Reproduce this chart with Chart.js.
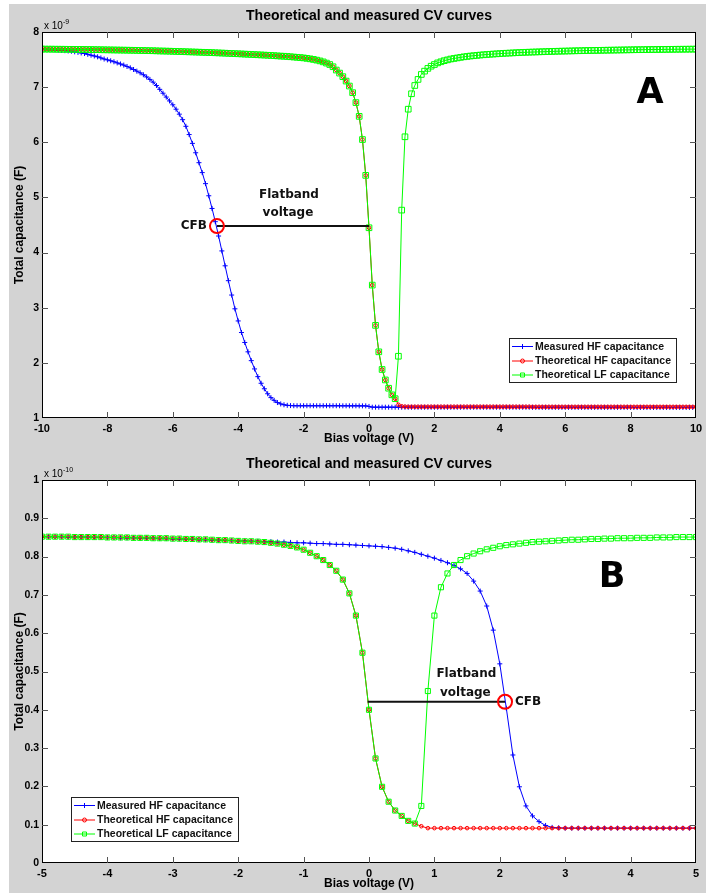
<!DOCTYPE html>
<html>
<head>
<meta charset="utf-8">
<script src="https://cdn.jsdelivr.net/npm/chart.js@4.4.1/dist/chart.umd.min.js"></script>
<style>
  html, body { margin: 0; padding: 0; background: #fff; }
  body { width: 706px; height: 893px; position: relative; overflow: hidden; }
  #bg { position: absolute; left: 9px; top: 4px; right: 0; bottom: 0; background: #d3d3d3; }
  canvas { position: absolute; left: 0; }
  #chartA { top: 0; }
  #chartB { top: 446px; }
</style>
</head>
<body>
<div id="bg"></div>
<canvas id="chartA" width="706" height="446"></canvas>
<canvas id="chartB" width="706" height="447"></canvas>
<script>
// ---- chart A data (capacitance in units of 1e-9 F) ----
const biasA = [
  -10,-9.9,-9.8,-9.7,-9.6,-9.5,-9.4,-9.3,-9.2,-9.1,
  -9,-8.9,-8.8,-8.7,-8.6,-8.5,-8.4,-8.3,-8.2,-8.1,
  -8,-7.9,-7.8,-7.7,-7.6,-7.5,-7.4,-7.3,-7.2,-7.1,
  -7,-6.9,-6.8,-6.7,-6.6,-6.5,-6.4,-6.3,-6.2,-6.1,
  -6,-5.9,-5.8,-5.7,-5.6,-5.5,-5.4,-5.3,-5.2,-5.1,
  -5,-4.9,-4.8,-4.7,-4.6,-4.5,-4.4,-4.3,-4.2,-4.1,
  -4,-3.9,-3.8,-3.7,-3.6,-3.5,-3.4,-3.3,-3.2,-3.1,
  -3,-2.9,-2.8,-2.7,-2.6,-2.5,-2.4,-2.3,-2.2,-2.1,
  -2,-1.9,-1.8,-1.7,-1.6,-1.5,-1.4,-1.3,-1.2,-1.1,
  -1,-0.9,-0.8,-0.7,-0.6,-0.5,-0.4,-0.3,-0.2,-0.1,
  0,0.1,0.2,0.3,0.4,0.5,0.6,0.7,0.8,0.9,
  1,1.1,1.2,1.3,1.4,1.5,1.6,1.7,1.8,1.9,
  2,2.1,2.2,2.3,2.4,2.5,2.6,2.7,2.8,2.9,
  3,3.1,3.2,3.3,3.4,3.5,3.6,3.7,3.8,3.9,
  4,4.1,4.2,4.3,4.4,4.5,4.6,4.7,4.8,4.9,
  5,5.1,5.2,5.3,5.4,5.5,5.6,5.7,5.8,5.9,
  6,6.1,6.2,6.3,6.4,6.5,6.6,6.7,6.8,6.9,
  7,7.1,7.2,7.3,7.4,7.5,7.6,7.7,7.8,7.9,
  8,8.1,8.2,8.3,8.4,8.5,8.6,8.7,8.8,8.9,
  9,9.1,9.2,9.3,9.4,9.5,9.6,9.7,9.8,9.9,10
];
const measuredHFA = [
  7.69,7.686,7.682,7.678,7.674,7.67,7.666,7.661,7.656,7.651,
  7.64,7.63,7.62,7.61,7.595,7.58,7.565,7.55,7.53,7.51,
  7.495,7.478,7.46,7.44,7.42,7.4,7.375,7.35,7.32,7.29,
  7.26,7.225,7.185,7.14,7.09,7.03,6.96,6.89,6.82,6.75,
  6.68,6.6,6.51,6.41,6.29,6.14,5.98,5.81,5.63,5.45,
  5.25,5.03,4.8,4.56,4.3,4.03,3.76,3.49,3.23,2.98,
  2.76,2.55,2.37,2.2,2.04,1.89,1.75,1.63,1.53,1.44,
  1.37,1.32,1.28,1.255,1.24,1.23,1.225,1.223,1.222,1.222,
  1.222,1.222,1.222,1.222,1.222,1.222,1.222,1.222,1.222,1.222,
  1.222,1.222,1.221,1.221,1.221,1.221,1.221,1.22,1.22,1.22,
  1.21,1.196,1.196,1.196,1.196,1.196,1.196,1.196,1.196,1.196,
  1.195,1.195,1.195,1.195,1.195,1.195,1.195,1.195,1.195,1.195,
  1.195,1.195,1.195,1.195,1.195,1.195,1.195,1.195,1.195,1.195,
  1.195,1.195,1.195,1.195,1.195,1.195,1.195,1.195,1.195,1.195,
  1.195,1.195,1.195,1.195,1.195,1.195,1.195,1.195,1.195,1.195,
  1.193,1.193,1.193,1.193,1.193,1.193,1.193,1.193,1.193,1.193,
  1.193,1.193,1.193,1.193,1.193,1.193,1.193,1.193,1.193,1.193,
  1.193,1.193,1.193,1.193,1.193,1.193,1.193,1.193,1.193,1.193,
  1.191,1.191,1.191,1.191,1.191,1.191,1.191,1.191,1.191,1.191,
  1.191,1.191,1.191,1.191,1.191,1.191,1.191,1.191,1.191,1.191,1.191
];
const theoryLFA = [
  7.69,7.69,7.689,7.689,7.688,7.688,7.687,7.687,7.686,7.686,
  7.685,7.684,7.684,7.683,7.682,7.681,7.68,7.679,7.678,7.677,
  7.676,7.675,7.674,7.673,7.672,7.671,7.67,7.669,7.668,7.667,
  7.665,7.664,7.662,7.661,7.66,7.658,7.656,7.655,7.653,7.652,
  7.65,7.648,7.646,7.644,7.642,7.64,7.638,7.636,7.634,7.632,
  7.63,7.628,7.626,7.623,7.621,7.618,7.616,7.613,7.61,7.607,
  7.605,7.602,7.599,7.596,7.593,7.59,7.587,7.584,7.581,7.578,
  7.575,7.571,7.567,7.563,7.56,7.556,7.551,7.546,7.541,7.536,
  7.53,7.522,7.513,7.503,7.49,7.476,7.458,7.436,7.41,7.37,
  7.31,7.255,7.19,7.11,7.02,6.9,6.72,6.47,6.05,5.4,
  4.45,3.41,2.68,2.2,1.88,1.69,1.54,1.42,1.35,2.12,
  4.77,6.1,6.6,6.88,7.03,7.14,7.23,7.29,7.34,7.38,
  7.41,7.44,7.46,7.48,7.495,7.51,7.52,7.53,7.54,7.55,
  7.557,7.564,7.57,7.576,7.582,7.587,7.592,7.596,7.6,7.604,
  7.608,7.612,7.615,7.618,7.621,7.624,7.627,7.63,7.632,7.634,
  7.636,7.638,7.64,7.642,7.644,7.646,7.648,7.65,7.651,7.653,
  7.654,7.656,7.657,7.659,7.66,7.661,7.663,7.664,7.665,7.666,
  7.667,7.668,7.669,7.67,7.671,7.672,7.673,7.674,7.675,7.676,
  7.677,7.678,7.679,7.679,7.68,7.681,7.682,7.682,7.683,7.684,
  7.684,7.685,7.686,7.686,7.687,7.687,7.688,7.688,7.689,7.689,7.69
];
// theoretical HF follows the LF curve up to 0.8 V, then these values (0.9 .. 10 V)
const theoryHFTailA = [
  1.24,1.212,1.206,1.204,1.204,1.204,1.204,1.204,1.204,1.204,
  1.204,1.204,1.204,1.204,1.204,1.204,1.204,1.204,1.204,1.204,
  1.204,1.204,1.204,1.204,1.204,1.204,1.204,1.204,1.204,1.204,
  1.204,1.204,1.204,1.204,1.204,1.204,1.204,1.204,1.204,1.204,1.204,
  1.202,1.202,1.202,1.202,1.202,1.202,1.202,1.202,1.202,1.202,
  1.202,1.202,1.202,1.202,1.202,1.202,1.202,1.202,1.202,1.202,
  1.202,1.202,1.202,1.202,1.202,1.202,1.202,1.202,1.202,1.202,
  1.202,1.202,1.202,1.202,1.202,1.202,1.202,1.202,1.202,1.202,
  1.202,1.202,1.202,1.202,1.202,1.202,1.202,1.202,1.202,1.202,1.202
];
const xTicksA = [-10, -8, -6, -4, -2, 0, 2, 4, 6, 8, 10];
const yTicksA = [1, 2, 3, 4, 5, 6, 7, 8];
const yLabelsA = ['1', '2', '3', '4', '5', '6', '7', '8'];

// ---- chart B data (capacitance in units of 1e-10 F) ----
const biasB = [
  -5,-4.9,-4.8,-4.7,-4.6,-4.5,-4.4,-4.3,-4.2,-4.1,
  -4,-3.9,-3.8,-3.7,-3.6,-3.5,-3.4,-3.3,-3.2,-3.1,
  -3,-2.9,-2.8,-2.7,-2.6,-2.5,-2.4,-2.3,-2.2,-2.1,
  -2,-1.9,-1.8,-1.7,-1.6,-1.5,-1.4,-1.3,-1.2,-1.1,
  -1,-0.9,-0.8,-0.7,-0.6,-0.5,-0.4,-0.3,-0.2,-0.1,
  0,0.1,0.2,0.3,0.4,0.5,0.6,0.7,0.8,0.9,
  1,1.1,1.2,1.3,1.4,1.5,1.6,1.7,1.8,1.9,
  2,2.1,2.2,2.3,2.4,2.5,2.6,2.7,2.8,2.9,
  3,3.1,3.2,3.3,3.4,3.5,3.6,3.7,3.8,3.9,
  4,4.1,4.2,4.3,4.4,4.5,4.6,4.7,4.8,4.9,5
];
const measuredHFB = [
  0.852,0.852,0.852,0.852,0.851,0.851,0.851,0.851,0.85,0.85,
  0.85,0.85,0.849,0.849,0.849,0.848,0.848,0.848,0.847,0.847,
  0.846,0.846,0.845,0.845,0.844,0.844,0.843,0.843,0.842,0.842,
  0.841,0.841,0.84,0.84,0.839,0.839,0.838,0.838,0.837,0.836,
  0.836,0.835,0.834,0.834,0.833,0.832,0.832,0.831,0.83,0.829,
  0.828,0.827,0.826,0.824,0.822,0.819,0.815,0.811,0.806,0.801,
  0.796,0.79,0.784,0.777,0.768,0.756,0.736,0.71,0.671,0.608,
  0.52,0.404,0.282,0.199,0.149,0.123,0.108,0.098,0.093,0.092,
  0.091,0.091,0.091,0.091,0.091,0.091,0.091,0.091,0.091,0.091,
  0.091,0.091,0.091,0.091,0.091,0.091,0.091,0.091,0.091,0.091,0.091
];
const theoryLFB = [
  0.852,0.852,0.852,0.852,0.852,0.851,0.851,0.851,0.851,0.851,
  0.85,0.85,0.85,0.85,0.849,0.849,0.849,0.848,0.848,0.848,
  0.847,0.847,0.846,0.846,0.845,0.845,0.844,0.843,0.843,0.842,
  0.841,0.84,0.84,0.839,0.838,0.836,0.834,0.831,0.828,0.824,
  0.818,0.81,0.801,0.791,0.778,0.763,0.74,0.704,0.646,0.549,
  0.4,0.273,0.199,0.16,0.137,0.123,0.11,0.103,0.149,0.449,
  0.646,0.72,0.756,0.778,0.791,0.801,0.808,0.814,0.819,0.823,
  0.827,0.83,0.832,0.834,0.836,0.838,0.839,0.84,0.841,0.842,
  0.843,0.844,0.844,0.845,0.846,0.846,0.847,0.847,0.848,0.848,
  0.848,0.849,0.849,0.849,0.85,0.85,0.85,0.851,0.851,0.851,0.851
];
// theoretical HF follows the LF curve up to 0.7 V, then these values (0.8 .. 5 V)
const theoryHFTailB = [
  0.096,0.091,0.091,0.091,0.091,0.091,0.091,0.091,0.091,0.091,
  0.091,0.091,0.091,0.091,0.091,0.091,0.091,0.091,0.091,0.091,
  0.091,0.091,0.091,0.091,0.091,0.091,0.091,0.091,0.091,0.091,
  0.091,0.091,0.091,0.091,0.091,0.091,0.091,0.091,0.091,0.091,
  0.091,0.091,0.091
];
const xTicksB = [-5, -4, -3, -2, -1, 0, 1, 2, 3, 4, 5];
const yTicksB = [0, 0.1, 0.2, 0.3, 0.4, 0.5, 0.6, 0.7, 0.8, 0.9, 1];
const yLabelsB = ['0', '0.1', '0.2', '0.3', '0.4', '0.5', '0.6', '0.7', '0.8', '0.9', '1'];

const theoryHFA = theoryLFA.slice(0, 109).concat(theoryHFTailA);
const theoryHFB = theoryLFB.slice(0, 58).concat(theoryHFTailB);

const FONT = "'Liberation Sans', Arial, Helvetica, sans-serif";
const NOTE_FONT = "'DejaVu Sans', Verdana, sans-serif";
const BLUE = '#0000ff', RED = '#ff0000', GREEN = '#00ff00';

const pts = (xs, ys) => ys.map((y, i) => ({ x: xs[i], y: y }));

function drawMarker(ctx, style, x, y, r, color) {
  ctx.save();
  ctx.strokeStyle = color;
  ctx.lineWidth = 1;
  ctx.beginPath();
  if (style === 'cross') {
    ctx.moveTo(x - r, y); ctx.lineTo(x + r, y);
    ctx.moveTo(x, y - r); ctx.lineTo(x, y + r);
  } else if (style === 'circle') {
    ctx.arc(x, y, r, 0, Math.PI * 2);
  } else {
    ctx.rect(x - r, y - r, 2 * r, 2 * r);
  }
  ctx.stroke();
  ctx.restore();
}

const matlabLook = {
  id: 'matlabLook',
  beforeDraw(chart) {
    const { ctx, chartArea: a } = chart;
    ctx.save();
    ctx.fillStyle = '#ffffff';
    ctx.fillRect(a.left, a.top, a.right - a.left, a.bottom - a.top);
    ctx.restore();
  },
  afterDraw(chart, args, o) {
    const { ctx, chartArea: a } = chart;
    const x = chart.scales.x, y = chart.scales.y;
    const midX = (a.left + a.right) / 2, midY = (a.top + a.bottom) / 2;
    ctx.save();

    // axes box and inward ticks
    ctx.strokeStyle = '#000';
    ctx.lineWidth = 1;
    ctx.strokeRect(a.left + 0.5, a.top + 0.5, a.right - a.left - 1, a.bottom - a.top - 1);
    ctx.strokeStyle = '#555';
    ctx.beginPath();
    x.ticks.forEach(t => {
      const p = Math.round(x.getPixelForValue(t.value)) + 0.5;
      if (p < a.left + 2 || p > a.right - 2) return;
      ctx.moveTo(p, a.top); ctx.lineTo(p, a.top + 6);
      ctx.moveTo(p, a.bottom); ctx.lineTo(p, a.bottom - 6);
    });
    y.ticks.forEach(t => {
      const p = Math.round(y.getPixelForValue(t.value)) + 0.5;
      if (p < a.top + 2 || p > a.bottom - 2) return;
      ctx.moveTo(a.left, p); ctx.lineTo(a.left + 6, p);
      ctx.moveTo(a.right, p); ctx.lineTo(a.right - 6, p);
    });
    ctx.stroke();

    // titles
    ctx.fillStyle = '#000';
    ctx.textAlign = 'center';
    ctx.textBaseline = 'middle';
    ctx.font = 'bold 14px ' + FONT;
    ctx.fillText('Theoretical and measured CV curves', midX, a.top - 16);
    ctx.font = 'bold 12px ' + FONT;
    ctx.fillText('Bias voltage (V)', midX, a.bottom + 21);
    ctx.save();
    ctx.translate(20, midY);
    ctx.rotate(-Math.PI / 2);
    ctx.fillText('Total capacitance (F)', 0, 0);
    ctx.restore();

    // axis exponent
    ctx.textAlign = 'left';
    ctx.textBaseline = 'alphabetic';
    ctx.font = '10px ' + FONT;
    ctx.fillText('x 10', a.left + 2, a.top - 3);
    const w = ctx.measureText('x 10').width;
    ctx.font = '7px ' + FONT;
    ctx.fillText(o.exponent, a.left + 2 + w, a.top - 8);

    // flatband annotation
    const cx = x.getPixelForValue(o.cfb.v), cy = y.getPixelForValue(o.cfb.c);
    const ex = x.getPixelForValue(o.flatEnd);
    ctx.strokeStyle = '#111';
    ctx.lineWidth = 2;
    ctx.beginPath();
    ctx.moveTo(cx, cy); ctx.lineTo(ex, cy);
    ctx.stroke();
    ctx.strokeStyle = RED;
    ctx.beginPath();
    ctx.arc(cx, cy, 7, 0, Math.PI * 2);
    ctx.stroke();
    ctx.fillStyle = '#111';
    ctx.font = 'bold 12px ' + NOTE_FONT;
    ctx.textBaseline = 'middle';
    if (o.cfbSide === 'left') {
      ctx.textAlign = 'right';
      ctx.fillText('CFB', cx - 10, cy);
    } else {
      ctx.textAlign = 'left';
      ctx.fillText('CFB', cx + 10, cy);
    }
    ctx.textAlign = 'center';
    const tx = (cx + ex) / 2 + o.textDx;
    ctx.fillText('Flatband', tx, cy + o.textDy[0]);
    ctx.fillText('voltage', tx - 1, cy + o.textDy[1]);

    // panel letter
    ctx.font = 'bold 35px ' + NOTE_FONT;
    ctx.fillStyle = '#000';
    ctx.fillText(o.letter.t, o.letter.x, o.letter.y);

    // legend
    const L = o.legend;
    ctx.fillStyle = '#fff';
    ctx.fillRect(L.x, L.y, 168, 45);
    ctx.strokeStyle = '#222';
    ctx.lineWidth = 1;
    ctx.strokeRect(L.x + 0.5, L.y + 0.5, 167, 44);
    ctx.font = 'bold 10.5px ' + FONT;
    ctx.textAlign = 'left';
    ctx.textBaseline = 'middle';
    chart.data.datasets.forEach((d, i) => {
      const ry = L.y + [8.5, 23, 37][i];
      ctx.strokeStyle = d.borderColor;
      ctx.beginPath();
      ctx.moveTo(L.x + 3, ry); ctx.lineTo(L.x + 24, ry);
      ctx.stroke();
      drawMarker(ctx, d.pointStyle, L.x + 13.5, ry, d.pointStyle === 'cross' ? 2.5 : 2, d.borderColor);
      ctx.fillStyle = '#111';
      ctx.fillText(d.label, L.x + 26, ry + 0.5);
    });
    ctx.restore();
  }
};

function datasets(xs, meas, hf, lf, sq) {
  return [
    { label: 'Measured HF capacitance', data: pts(xs, meas), borderColor: BLUE, pointStyle: 'cross', pointRadius: 2.5, order: 3 },
    { label: 'Theoretical HF capacitance', data: pts(xs, hf), borderColor: RED, pointStyle: 'circle', pointRadius: 1.8, order: 2 },
    { label: 'Theoretical LF capacitance', data: pts(xs, lf), borderColor: GREEN, pointStyle: 'rect', pointRadius: sq, order: 1 }
  ].map(d => Object.assign({
    borderWidth: 1,
    pointBorderWidth: 1,
    pointBorderColor: d.borderColor,
    pointBackgroundColor: 'rgba(0,0,0,0)',
    tension: 0,
    fill: false
  }, d));
}

function makeChart(id, c) {
  return new Chart(document.getElementById(id), {
    type: 'line',
    data: { datasets: datasets(c.bias, c.meas, c.hf, c.lf, c.sq) },
    options: {
      responsive: false,
      animation: false,
      events: [],
      layout: { padding: { left: 0, right: 10, top: c.top, bottom: 0 } },
      plugins: {
        legend: { display: false },
        tooltip: { enabled: false },
        matlabLook: c.look
      },
      scales: {
        x: {
          type: 'linear',
          min: c.xTicks[0],
          max: c.xTicks[c.xTicks.length - 1],
          afterBuildTicks: s => { s.ticks = c.xTicks.map(v => ({ value: v })); },
          afterFit: s => { s.height = c.xh; s.paddingLeft = 0; s.paddingRight = 0; },
          grid: { display: false, drawTicks: false },
          border: { display: false },
          ticks: {
            color: '#000', padding: 4, maxRotation: 0, autoSkip: false,
            font: { family: FONT, size: 11, weight: 'bold' },
            callback: v => String(v)
          }
        },
        y: {
          type: 'linear',
          min: c.yTicks[0],
          max: c.yTicks[c.yTicks.length - 1],
          afterBuildTicks: s => { s.ticks = c.yTicks.map(v => ({ value: v })); },
          afterFit: s => { s.width = 42; s.paddingTop = 0; s.paddingBottom = 0; },
          grid: { display: false, drawTicks: false },
          border: { display: false },
          ticks: {
            color: '#000', padding: 3, autoSkip: false,
            font: { family: FONT, size: 10.5, weight: 'bold' },
            callback: (v, i) => c.yLabels[i]
          }
        }
      }
    },
    plugins: [matlabLook]
  });
}

makeChart('chartA', {
  bias: biasA, meas: measuredHFA, hf: theoryHFA, lf: theoryLFA, sq: 4,
  xTicks: xTicksA, yTicks: yTicksA, yLabels: yLabelsA, top: 32, xh: 28,
  look: {
    exponent: '-9',
    cfb: { v: -4.65, c: 4.48 }, flatEnd: 0.0, cfbSide: 'left',
    textDx: -4, textDy: [-31, -13],
    letter: { t: 'A', x: 650, y: 94 },
    legend: { x: 509, y: 338 }
  }
});

makeChart('chartB', {
  bias: biasB, meas: measuredHFB, hf: theoryHFB, lf: theoryLFB, sq: 3.6,
  xTicks: xTicksB, yTicks: yTicksB, yLabels: yLabelsB, top: 34, xh: 30,
  look: {
    exponent: '-10',
    cfb: { v: 2.08, c: 0.421 }, flatEnd: -0.02, cfbSide: 'right',
    textDx: 30, textDy: [-28, -9],
    letter: { t: 'B', x: 612, y: 132 },
    legend: { x: 71, y: 351 }
  }
});
</script>
</body>
</html>
